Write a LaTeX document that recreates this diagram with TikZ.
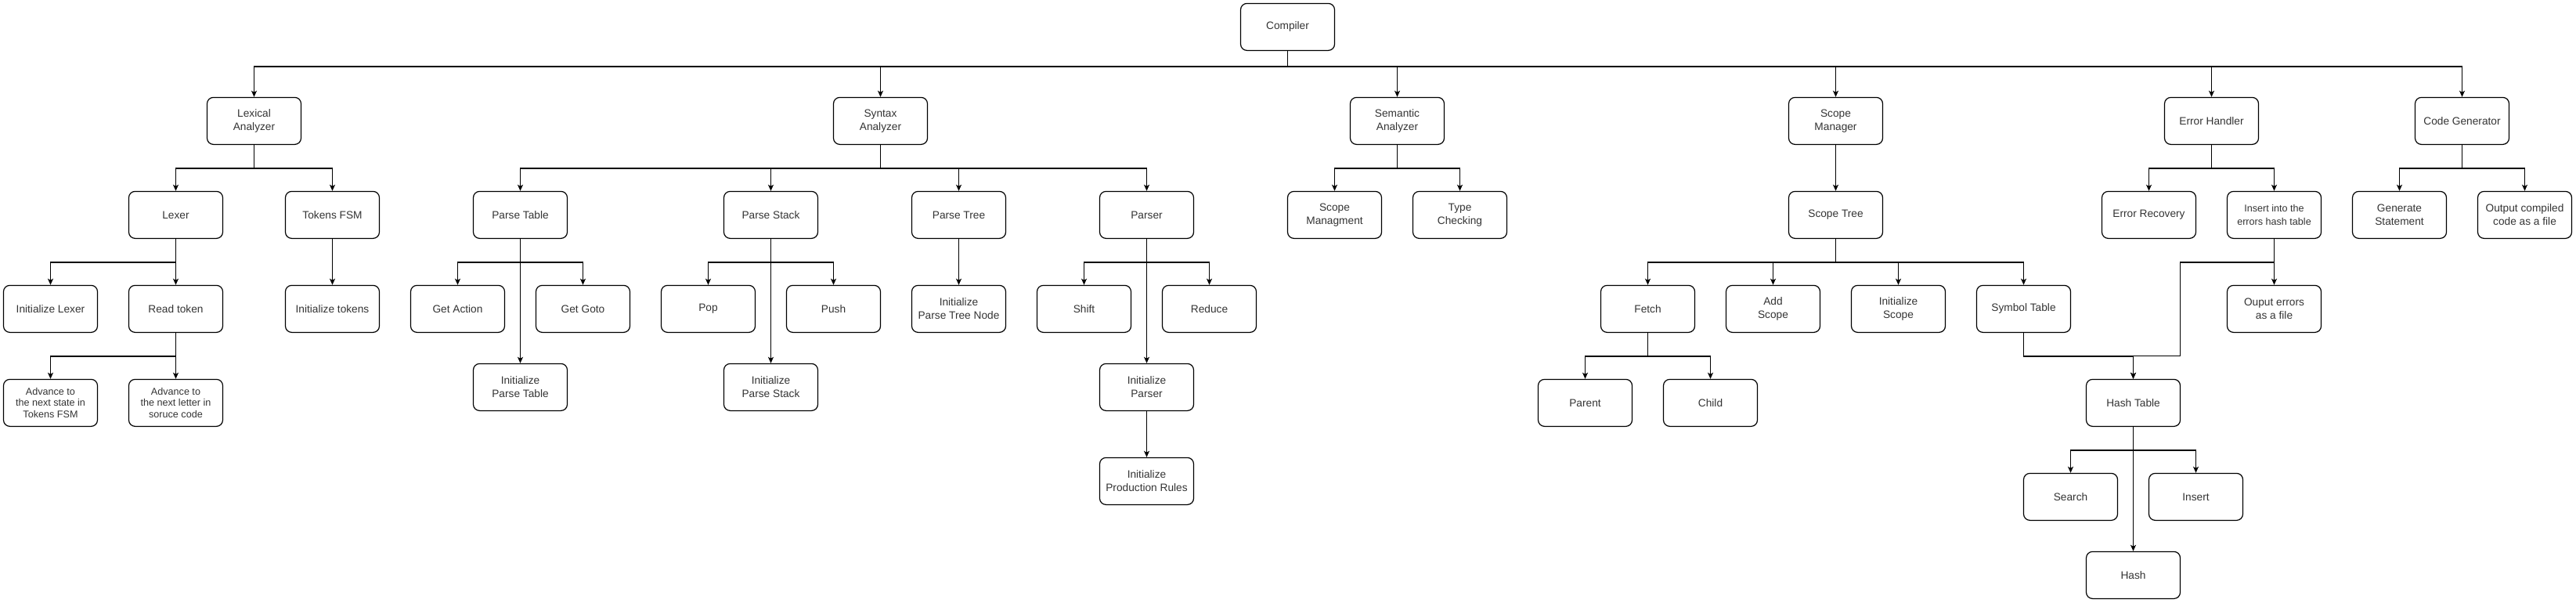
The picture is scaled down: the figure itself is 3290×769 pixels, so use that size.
\documentclass[tikz,border=0pt]{standalone}
\usepackage{fontspec}
\setmainfont{Liberation Sans}
\usetikzlibrary{arrows.meta}
\tikzset{
  box/.style={draw=black, line width=1.2pt, rounded corners=8pt, minimum width=120pt, minimum height=60pt,
    inner sep=0pt, align=center, text=black!80, font=\fontsize{13.7}{17}\selectfont},
  smallbox/.style={box, font=\fontsize{12.6}{14.5}\selectfont},
  medbox/.style={box, font=\fontsize{12.6}{16.5}\selectfont},
  arr/.style={draw=black, line width=1.2pt, -{Stealth[length=8pt,width=7pt,inset=2pt]}},
}
\begin{document}
\begin{tikzpicture}[x=1pt,y=-1pt]
\useasboundingbox (0,0) rectangle (3290,769);
% level 0
\node[box] (comp) at (1644.5,34.4) {Compiler};
% level 1
\node[box] (lex) at (324.5,154.4) {Lexical\\Analyzer};
\node[box] (syn) at (1124.5,154.4) {Syntax\\Analyzer};
\node[box] (sem) at (1784.5,154.4) {Semantic\\Analyzer};
\node[box] (scm) at (2344.5,154.4) {Scope\\Manager};
\node[box] (err) at (2824.5,154.4) {Error Handler};
\node[box] (cg) at (3144.5,154.4) {Code Generator};
% level 2
\node[box] (lexer) at (224.5,274.4) {Lexer};
\node[box] (tfsm) at (424.5,274.4) {Tokens FSM};
\node[box] (ptab) at (664.5,274.4) {Parse Table};
\node[box] (pstk) at (984.5,274.4) {Parse Stack};
\node[box] (ptree) at (1224.5,274.4) {Parse Tree};
\node[box] (parser) at (1464.5,274.4) {Parser};
\node[box] (scmg) at (1704.5,274.4) {Scope\\Managment};
\node[box] (tc) at (1864.5,274.4) {Type\\Checking};
\node[box] (stree) at (2344.5,274.4) {Scope Tree};
\node[box] (erec) at (2744.5,274.4) {Error Recovery};
\node[medbox] (ins) at (2904.5,274.4) {Insert into the\\errors hash table};
\node[box] (gen) at (3064.5,274.4) {Generate\\Statement};
\node[box] (out) at (3224.5,274.4) {Output compiled\\code as a file};
% level 3
\node[box] (ilex) at (64.5,394.4) {Initialize Lexer};
\node[box] (rtok) at (224.5,394.4) {Read token};
\node[box] (itok) at (424.5,394.4) {Initialize tokens};
\node[box] (gact) at (584.5,394.4) {Get Action};
\node[box] (ggoto) at (744.5,394.4) {Get Goto};
\node[box] (pop) at (904.5,394.4) {Pop};
\node[box] (push) at (1064.5,394.4) {Push};
\node[box] (iptn) at (1224.5,394.4) {Initialize\\Parse Tree Node};
\node[box] (shift) at (1384.5,394.4) {Shift};
\node[box] (reduce) at (1544.5,394.4) {Reduce};
\node[box] (fetch) at (2104.5,394.4) {Fetch};
\node[box] (adds) at (2264.5,394.4) {Add\\Scope};
\node[box] (inits) at (2424.5,394.4) {Initialize\\Scope};
\node[box] (symt) at (2584.5,394.4) {Symbol Table};
\node[box] (oerr) at (2904.5,394.4) {Ouput errors\\as a file};
% level 3.5
\node[box] (iptab) at (664.5,494.4) {Initialize\\Parse Table};
\node[box] (ipstk) at (984.5,494.4) {Initialize\\Parse Stack};
\node[box] (iparser) at (1464.5,494.4) {Initialize\\Parser};
% level 4
\node[smallbox] (adv1) at (64.5,514.4) {Advance to\\the next state in\\Tokens FSM};
\node[smallbox] (adv2) at (224.5,514.4) {Advance to\\the next letter in\\soruce code};
\node[box] (parent) at (2024.5,514.4) {Parent};
\node[box] (child) at (2184.5,514.4) {Child};
\node[box] (ht) at (2724.5,514.4) {Hash Table};
% lower
\node[box] (iprod) at (1464.5,614.4) {Initialize\\Production Rules};
\node[box] (search) at (2644.5,634.4) {Search};
\node[box] (insert) at (2804.5,634.4) {Insert};
\node[box] (hash) at (2724.5,734.4) {Hash};
\coordinate (insbend) at (2784.5,454.4);

% connectors
\foreach \c in {lex,syn,sem,scm,err,cg}
  \draw[arr] (comp.south) -- ++(0,20) -| (\c.north);
\foreach \c in {lexer,tfsm} \draw[arr] (lex.south) -- ++(0,30) -| (\c.north);
\foreach \c in {ptab,pstk,ptree,parser} \draw[arr] (syn.south) -- ++(0,30) -| (\c.north);
\foreach \c in {scmg,tc} \draw[arr] (sem.south) -- ++(0,30) -| (\c.north);
\draw[arr] (scm.south) -- (stree.north);
\foreach \c in {erec,ins} \draw[arr] (err.south) -- ++(0,30) -| (\c.north);
\foreach \c in {gen,out} \draw[arr] (cg.south) -- ++(0,30) -| (\c.north);

\draw[arr] (lexer.south) -- ++(0,30) -| (ilex.north);
\draw[arr] (lexer.south) -- (rtok.north);
\draw[arr] (tfsm.south) -- (itok.north);
\foreach \c in {gact,ggoto} \draw[arr] (ptab.south) -- ++(0,30) -| (\c.north);
\draw[arr] (ptab.south) -- (iptab.north);
\foreach \c in {pop,push} \draw[arr] (pstk.south) -- ++(0,30) -| (\c.north);
\draw[arr] (pstk.south) -- (ipstk.north);
\draw[arr] (ptree.south) -- (iptn.north);
\foreach \c in {shift,reduce} \draw[arr] (parser.south) -- ++(0,30) -| (\c.north);
\draw[arr] (parser.south) -- (iparser.north);
\draw[arr] (iparser.south) -- (iprod.north);
\foreach \c in {fetch,adds,inits,symt} \draw[arr] (stree.south) -- ++(0,30) -| (\c.north);
\draw[arr] (ins.south) -- (oerr.north);
\draw[arr] (ins.south) -- ++(0,30) -| (insbend) -| (ht.north);
\draw[arr] (symt.south) -- ++(0,30) -| (ht.north);

\draw[arr] (rtok.south) -- ++(0,30) -| (adv1.north);
\draw[arr] (rtok.south) -- (adv2.north);
\foreach \c in {parent,child} \draw[arr] (fetch.south) -- ++(0,30) -| (\c.north);
\foreach \c in {search,insert} \draw[arr] (ht.south) -- ++(0,30) -| (\c.north);
\draw[arr] (ht.south) -- (hash.north);
\end{tikzpicture}
\end{document}
